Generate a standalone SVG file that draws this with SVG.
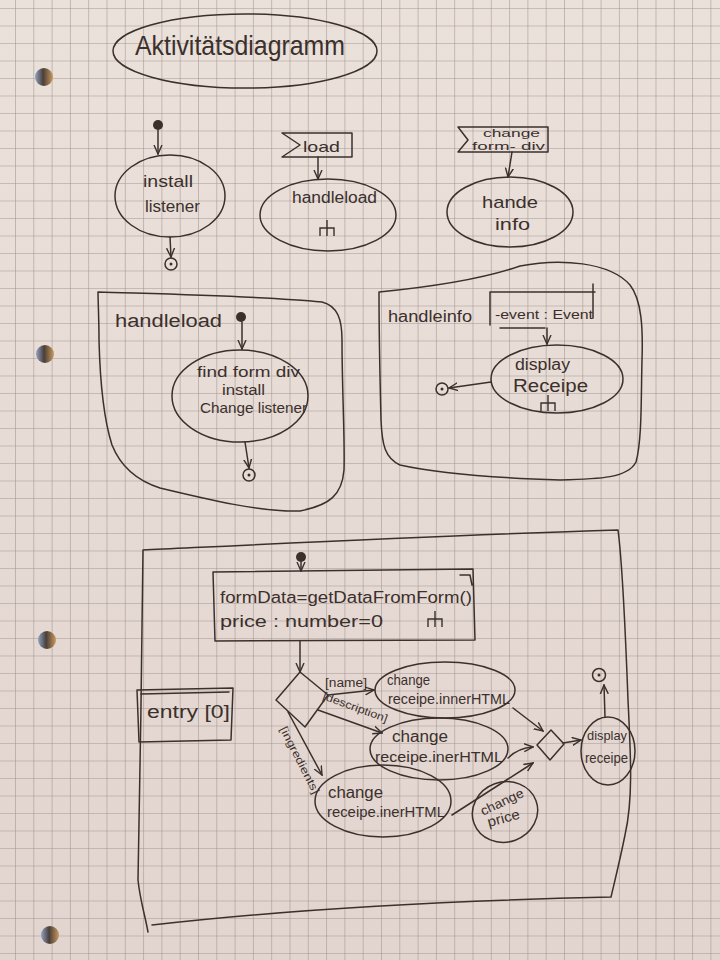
<svg xmlns="http://www.w3.org/2000/svg" width="720" height="960" viewBox="0 0 720 960">
  <style>
    .ink { fill: none; stroke: #3b302c; stroke-width: 1.5; stroke-linecap: round; stroke-linejoin: round; }
    .dot { fill: #3b302c; }
    .t { font-family: "Liberation Sans", Arial, sans-serif; fill: #3b302c; text-anchor: start; }
    .conn { fill: none; stroke: #3b302c; stroke-width: 1.5; stroke-linecap: round; marker-end: url(#arr); }
  </style>
  <defs>
    <pattern id="grid" patternUnits="userSpaceOnUse" x="15" y="43" width="18.3" height="17.5">
      <path d="M0,0 H18.3 M0,0 V17.5" fill="none" stroke="#a1958f" stroke-width="1.1"/>
    </pattern>
    <linearGradient id="paper" x1="0" y1="0" x2="0" y2="1">
      <stop offset="0" stop-color="#ebe1db"/>
      <stop offset="1" stop-color="#e2d4cf"/>
    </linearGradient>
    <linearGradient id="hole" x1="0" y1="0" x2="1" y2="0">
      <stop offset="0" stop-color="#8fa3c4"/>
      <stop offset="0.45" stop-color="#4a3e38"/>
      <stop offset="1" stop-color="#c99a5e"/>
    </linearGradient>
    <marker id="arr" viewBox="0 0 10 10" refX="9" refY="5" markerWidth="10" markerHeight="10" markerUnits="userSpaceOnUse" orient="auto">
      <path d="M0,1 L9,5 L0,9" fill="none" stroke="#3b302c" stroke-width="1.4"/>
    </marker>
    <!-- call-behaviour rake icon -->
    <path id="rake" d="M-7,7 V-1 H7 V7 M0,-9 V7" fill="none" stroke="#3b302c" stroke-width="1.4"/>
  </defs>

  <!-- paper -->
  <rect width="720" height="960" fill="url(#paper)"/>
  <rect width="720" height="960" fill="url(#grid)"/>
  <g id="holes">
    <circle cx="44" cy="77" r="9" fill="url(#hole)"/>
    <circle cx="45" cy="354" r="9" fill="url(#hole)"/>
    <circle cx="47" cy="640" r="9" fill="url(#hole)"/>
    <circle cx="50" cy="935" r="9" fill="url(#hole)"/>
  </g>

  <!-- title -->
  <g id="title">
    <ellipse cx="245" cy="51" rx="132" ry="37" class="ink"/>
    <text class="t" x="135" y="55" font-size="28" textLength="210" lengthAdjust="spacingAndGlyphs">Aktivitätsdiagramm</text>
  </g>

  <!-- top row -->
  <g id="start1"><circle cx="158" cy="125" r="5" class="dot"/></g>
  <g id="installListener">
    <ellipse cx="170" cy="196" rx="55" ry="41" class="ink"/>
    <text class="t" x="143" y="187" font-size="17" textLength="50" lengthAdjust="spacingAndGlyphs">install</text>
    <text class="t" x="145" y="212" font-size="17" textLength="55" lengthAdjust="spacingAndGlyphs">listener</text>
  </g>
  <g id="final1"><circle cx="171" cy="264" r="6" class="ink"/><circle cx="171" cy="264" r="1.5" class="dot"/></g>

  <g id="loadSignal">
    <path d="M282,133 H352 V157 H282 L300,145 Z" class="ink"/>
    <text class="t" x="303" y="152" font-size="15" textLength="37" lengthAdjust="spacingAndGlyphs">load</text>
  </g>
  <g id="handleloadCall">
    <ellipse cx="328" cy="215" rx="68" ry="36" class="ink"/>
    <text class="t" x="292" y="203" font-size="16" textLength="85" lengthAdjust="spacingAndGlyphs">handleload</text>
    <use href="#rake" x="327" y="229"/>
  </g>

  <g id="changeSignal">
    <path d="M458,127 H548 V152 H458 L468,140 Z" class="ink"/>
    <text class="t" x="483" y="137" font-size="11" textLength="57" lengthAdjust="spacingAndGlyphs">change</text>
    <text class="t" x="472" y="149.5" font-size="11" textLength="73" lengthAdjust="spacingAndGlyphs">form- div</text>
  </g>
  <g id="handleinfoCall">
    <ellipse cx="510" cy="212" rx="63" ry="35" class="ink"/>
    <text class="t" x="482" y="208" font-size="17" textLength="56" lengthAdjust="spacingAndGlyphs">hande</text>
    <text class="t" x="495" y="230" font-size="17" textLength="35" lengthAdjust="spacingAndGlyphs">info</text>
  </g>

  <!-- handleload activity -->
  <g id="handleloadFrame">
    <path d="M98,292 C160,294 260,296 322,302 C338,306 342,320 342,340 C342,390 345,440 344,470 C342,495 330,505 300,511 C260,512 210,500 160,488 C135,480 120,465 112,445 C104,420 100,380 99,340 C99,320 98,300 98,292 Z" class="ink"/>
    <text class="t" x="115" y="327" font-size="18" textLength="107" lengthAdjust="spacingAndGlyphs">handleload</text>
  </g>
  <g id="start2"><circle cx="241" cy="317" r="5" class="dot"/></g>
  <g id="findFormDiv">
    <ellipse cx="240" cy="396" rx="68" ry="46" class="ink"/>
    <text class="t" x="197" y="377" font-size="14" textLength="103" lengthAdjust="spacingAndGlyphs">find form div</text>
    <text class="t" x="222" y="395" font-size="14" textLength="43" lengthAdjust="spacingAndGlyphs">install</text>
    <text class="t" x="200" y="413" font-size="15" textLength="107" lengthAdjust="spacingAndGlyphs">Change listener</text>
  </g>
  <g id="final2"><circle cx="249" cy="475" r="6" class="ink"/><circle cx="249" cy="475" r="1.5" class="dot"/></g>

  <!-- handleinfo activity -->
  <g id="handleinfoFrame">
    <path d="M379,292 C420,288 480,280 520,266 C560,258 610,262 630,285 C642,300 643,330 642,360 C641,400 642,440 636,462 C628,478 600,479 560,480 C500,478 440,474 400,465 C385,458 382,445 381,420 C380,380 379,330 379,292 Z" class="ink"/>
    <text class="t" x="388" y="322" font-size="16" textLength="84" lengthAdjust="spacingAndGlyphs">handleinfo</text>
  </g>
  <g id="eventParam">
    <path d="M490,292 H595 M490,292 V325 M593,284 V318 M500,328 H545" class="ink"/>
    <text class="t" x="495" y="319" font-size="13" textLength="98" lengthAdjust="spacingAndGlyphs">-event : Event</text>
  </g>
  <g id="displayReceipe">
    <ellipse cx="557" cy="379" rx="66" ry="34" class="ink"/>
    <text class="t" x="515" y="370" font-size="16" textLength="55" lengthAdjust="spacingAndGlyphs">display</text>
    <text class="t" x="513" y="392" font-size="18" textLength="75" lengthAdjust="spacingAndGlyphs">Receipe</text>
    <use href="#rake" x="548" y="404"/>
  </g>
  <g id="final3"><circle cx="442" cy="389" r="6" class="ink"/><circle cx="442" cy="389" r="1.5" class="dot"/></g>

  <!-- change-listener activity -->
  <g id="changeFrame">
    <path d="M143,550 C250,545 450,535 618,530 C622,560 625,620 628,700 C631,760 633,800 625,835 C620,860 615,880 611,897 M148,932 C145,915 140,900 138,880 C140,780 142,650 143,550 M152,925 C300,908 480,900 611,897" class="ink"/>
  </g>
  <g id="start3"><circle cx="301" cy="557" r="5" class="dot"/></g>
  <g id="formDataAction">
    <path d="M213,572 L473,569 L475,640 L215,641 Z M460,575 L470,575 L472,585" class="ink"/>
    <text class="t" x="220" y="603" font-size="16" textLength="252" lengthAdjust="spacingAndGlyphs">formData=getDataFromForm()</text>
    <text class="t" x="220" y="627" font-size="16" textLength="163" lengthAdjust="spacingAndGlyphs">price : number=0</text>
    <use href="#rake" x="435" y="620"/>
  </g>
  <g id="entryNote">
    <path d="M137,690 L233,688 L231,740 L139,742 Z M141,694 L229,692" class="ink"/>
    <text class="t" x="147" y="718" font-size="18" textLength="83" lengthAdjust="spacingAndGlyphs">entry [0]</text>
  </g>
  <g id="decision">
    <path d="M300,672 L328,695 L305,727 L276,700 Z" class="ink"/>
  </g>
  <g id="changeName">
    <ellipse cx="445" cy="690" rx="70" ry="28" class="ink"/>
    <text class="t" x="387" y="685" font-size="15" textLength="43" lengthAdjust="spacingAndGlyphs">change</text>
    <text class="t" x="388" y="704" font-size="14" textLength="122" lengthAdjust="spacingAndGlyphs">receipe.innerHTML</text>
  </g>
  <g id="changeDescription">
    <ellipse cx="439" cy="749" rx="69" ry="31" class="ink"/>
    <text class="t" x="392" y="742" font-size="16" textLength="56" lengthAdjust="spacingAndGlyphs">change</text>
    <text class="t" x="375" y="762" font-size="15" textLength="128" lengthAdjust="spacingAndGlyphs">receipe.inerHTML</text>
  </g>
  <g id="changeIngredients">
    <ellipse cx="383" cy="801" rx="68" ry="36" class="ink"/>
    <text class="t" x="328" y="798" font-size="16" textLength="55" lengthAdjust="spacingAndGlyphs">change</text>
    <text class="t" x="327" y="817" font-size="15" textLength="118" lengthAdjust="spacingAndGlyphs">receipe.inerHTML</text>
  </g>
  <g id="changePrice">
    <ellipse cx="505" cy="812" rx="33" ry="30" transform="rotate(-20 505 812)" class="ink"/>
    <text class="t" x="478" y="807" font-size="13" textLength="46" lengthAdjust="spacingAndGlyphs" transform="rotate(-25 500 800)">change</text>
    <text class="t" x="487" y="823" font-size="14" textLength="33" lengthAdjust="spacingAndGlyphs" transform="rotate(-15 503 818)">price</text>
  </g>
  <g id="merge">
    <path d="M551,730 L564,744 L550,760 L537,745 Z" class="ink"/>
  </g>
  <g id="displayReceipeFinal">
    <ellipse cx="608" cy="751" rx="27" ry="34" class="ink"/>
    <text class="t" x="587" y="740" font-size="13" textLength="40" lengthAdjust="spacingAndGlyphs">display</text>
    <text class="t" x="585" y="763" font-size="14" textLength="43" lengthAdjust="spacingAndGlyphs">receipe</text>
  </g>
  <g id="final4"><circle cx="599" cy="675" r="6.5" class="ink"/><circle cx="599" cy="675" r="1.5" class="dot"/></g>

  <!-- connectors -->
  <g id="connectors">
    <path class="conn" d="M158,130 L158,154"/>
    <path class="conn" d="M170,237 L171,257"/>
    <path class="conn" d="M318,157 L318,179"/>
    <path class="conn" d="M512,152 L508,177"/>
    <path class="conn" d="M242,322 L242,349"/>
    <path class="conn" d="M245,442 L249,468"/>
    <path class="conn" d="M547,328 L547,344"/>
    <path class="conn" d="M491,382 L449,388"/>
    <path class="conn" d="M301,562 L301,571"/>
    <path class="conn" d="M300,641 L300,672"/>
    <path class="conn" d="M328,695 L374,690"/>
    <path class="conn" d="M318,710 L382,733"/>
    <path class="conn" d="M288,712 L322,775"/>
    <path class="conn" d="M513,708 L543,731"/>
    <path class="conn" d="M508,758 Q518,748 533,747"/>
    <path class="conn" d="M452,815 L533,763"/>
    <path class="conn" d="M563,743 L581,740"/>
    <path class="conn" d="M605,717 L604,685"/>
    <text class="t" x="325" y="687" font-size="12" textLength="42" lengthAdjust="spacingAndGlyphs">[name]</text>
    <text class="t" x="318" y="710" font-size="11" textLength="68" lengthAdjust="spacingAndGlyphs" transform="rotate(20 351 716)">[description]</text>
    <text class="t" x="263" y="764" font-size="11" textLength="74" lengthAdjust="spacingAndGlyphs" transform="rotate(63 300 760)">[ingredients]</text>
  </g>
</svg>
